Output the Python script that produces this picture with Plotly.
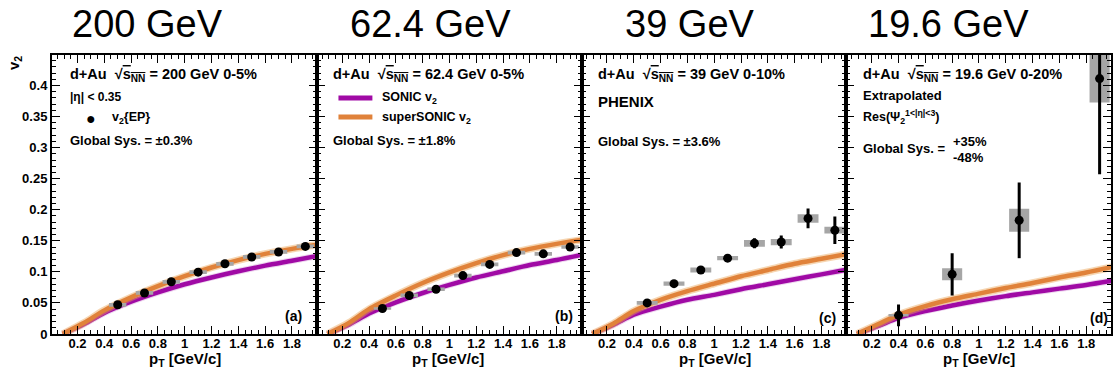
import plotly.graph_objects as go

# ---------------- data ----------------
# hydrodynamic curves (SONIC / superSONIC), sampled in pT
PT_CURVE = [0.09, 0.25, 0.4, 0.6, 0.8, 1.0, 1.2, 1.4, 1.6, 1.8, 2.0]

SONIC_200 = [0.0, 0.016, 0.034, 0.052, 0.067, 0.080, 0.091, 0.101, 0.110, 0.118, 0.126]
SUPER_200 = [0.0, 0.018, 0.038, 0.059, 0.077, 0.093, 0.107, 0.119, 0.129, 0.137, 0.144]
SONIC_624 = [0.0, 0.015, 0.033, 0.051, 0.066, 0.079, 0.091, 0.101, 0.111, 0.119, 0.128]
SUPER_624 = [0.0, 0.018, 0.040, 0.062, 0.082, 0.099, 0.114, 0.127, 0.137, 0.145, 0.152]
SONIC_39 = [0.0, 0.015, 0.031, 0.044, 0.055, 0.063, 0.072, 0.080, 0.088, 0.096, 0.104]
SUPER_39 = [0.0, 0.017, 0.037, 0.055, 0.069, 0.081, 0.093, 0.103, 0.113, 0.121, 0.129]
SONIC_196 = [0.0, 0.013, 0.026, 0.037, 0.046, 0.054, 0.061, 0.067, 0.073, 0.079, 0.086]
SUPER_196 = [0.0, 0.016, 0.031, 0.045, 0.056, 0.065, 0.074, 0.082, 0.091, 0.099, 0.108]

# PHENIX v2{EP} measurements
PT_DATA = [0.5, 0.7, 0.9, 1.1, 1.3, 1.5, 1.7, 1.9]

V2_200 = [0.047, 0.066, 0.084, 0.0995, 0.113, 0.124, 0.132, 0.141]
STAT_200 = [0.001, 0.001, 0.001, 0.001, 0.0015, 0.0015, 0.002, 0.002]
SYS_200 = [0.003, 0.003, 0.003, 0.003, 0.003, 0.003, 0.003, 0.003]

V2_624 = [0.041, 0.062, 0.072, 0.094, 0.112, 0.131, 0.129, 0.140]
STAT_624 = [0.002, 0.002, 0.002, 0.003, 0.003, 0.004, 0.004, 0.005]
SYS_624 = [0.002, 0.003, 0.003, 0.003, 0.003, 0.003, 0.003, 0.003]

V2_39 = [0.050, 0.081, 0.103, 0.122, 0.146, 0.148, 0.186, 0.167]
STAT_39 = [0.002, 0.003, 0.003, 0.004, 0.008, 0.0105, 0.016, 0.022]
SYS_39 = [0.003, 0.0035, 0.004, 0.0035, 0.0054, 0.005, 0.0068, 0.0054]

PT_196 = [0.4, 0.8, 1.3, 1.9]
V2_196 = [0.030, 0.096, 0.183, 0.411]
STAT_196 = [0.0175, 0.034, 0.061, 0.154]
SYS_196 = [0.002, 0.0097, 0.0185, 0.0385]

BOX_HALF_WIDTH = [0.065, 0.065, 0.078, 0.075]

PANELS = [
    dict(title="200 GeV", sonic=SONIC_200, sup=SUPER_200, pt=PT_DATA, v2=V2_200, stat=STAT_200, sys=SYS_200, tag="(a)"),
    dict(title="62.4 GeV", sonic=SONIC_624, sup=SUPER_624, pt=PT_DATA, v2=V2_624, stat=STAT_624, sys=SYS_624, tag="(b)"),
    dict(title="39 GeV", sonic=SONIC_39, sup=SUPER_39, pt=PT_DATA, v2=V2_39, stat=STAT_39, sys=SYS_39, tag="(c)"),
    dict(title="19.6 GeV", sonic=SONIC_196, sup=SUPER_196, pt=PT_196, v2=V2_196, stat=STAT_196, sys=SYS_196, tag="(d)"),
]

# ---------------- style ----------------
W, H = 1113, 372
ML, MR, MT, MB = 52, 0, 55, 38
PURPLE = "#a00aa5"
PURPLE_BAND = "rgba(175,60,180,0.22)"
ORANGE = "#e0823a"
ORANGE_BAND = "rgba(235,165,85,0.45)"
GREY = "#a6a6a6"
FONT = "Liberation Sans"

X_RANGE = [0.01, 1.985]
Y_RANGE = [0, 0.449]


def px(xpix):
    return (xpix - ML) / (W - ML - MR)


def py(ypix):
    return (H - MB - ypix) / (H - MT - MB)


fig = go.Figure()

n = len(PANELS)
for i, p in enumerate(PANELS):
    xa = "x" if i == 0 else f"x{i + 1}"
    ya = "y" if i == 0 else f"y{i + 1}"

    # theory curves: soft band underneath a solid core line
    for vals, core, band, bw in ((p["sonic"], PURPLE, PURPLE_BAND, 6.5), (p["sup"], ORANGE, ORANGE_BAND, 7.5)):
        fig.add_trace(go.Scatter(x=PT_CURVE, y=vals, mode="lines", xaxis=xa, yaxis=ya,
                                 line=dict(color=band, width=bw, shape="spline", smoothing=0.8),
                                 hoverinfo="skip", showlegend=False))
        fig.add_trace(go.Scatter(x=PT_CURVE, y=vals, mode="lines", xaxis=xa, yaxis=ya,
                                 line=dict(color=core, width=4.5, shape="spline", smoothing=0.8),
                                 showlegend=False))

    # systematic uncertainty boxes
    hw = BOX_HALF_WIDTH[i]
    bx, by = [], []
    for x, v, s in zip(p["pt"], p["v2"], p["sys"]):
        bx += [x - hw, x + hw, x + hw, x - hw, x - hw, None]
        by += [v - s, v - s, v + s, v + s, v - s, None]
    fig.add_trace(go.Scatter(x=bx, y=by, mode="lines", fill="toself", fillcolor=GREY,
                             line=dict(width=0, color=GREY), xaxis=xa, yaxis=ya,
                             hoverinfo="skip", showlegend=False))

    # data points with statistical errors
    fig.add_trace(go.Scatter(x=p["pt"], y=p["v2"], mode="markers", xaxis=xa, yaxis=ya,
                             marker=dict(color="black", size=9),
                             error_y=dict(type="data", array=p["stat"], color="black", thickness=3, width=0),
                             showlegend=False))

axis_common = dict(
    ticks="inside", mirror="allticks", showline=True, linewidth=2, linecolor="black",
    tickcolor="black", tickwidth=1.3, ticklen=8, showgrid=False, zeroline=False,
    tickfont=dict(family=FONT, size=13, color="black", weight="bold"),
)

layout = dict(width=W, height=H, margin=dict(l=ML, r=MR, t=MT, b=MB),
              plot_bgcolor="white", paper_bgcolor="white", showlegend=False)
for i in range(n):
    sx = "" if i == 0 else str(i + 1)
    layout[f"xaxis{sx}"] = dict(axis_common, domain=[i / n, (i + 1) / n], range=X_RANGE,
                                anchor=f"y{sx}", tick0=0, dtick=0.2, ticklabelstandoff=-4,
                                minor=dict(ticks="inside", tick0=0, dtick=0.05, ticklen=4,
                                           tickcolor="black", tickwidth=1.1))
    layout[f"yaxis{sx}"] = dict(axis_common, domain=[0, 1], range=Y_RANGE,
                                anchor=f"x{sx}", tick0=0, dtick=0.05,
                                showticklabels=(i == 0),
                                minor=dict(ticks="inside", tick0=0, dtick=0.01, ticklen=4,
                                           tickcolor="black", tickwidth=1.1))
fig.update_layout(**layout)

ann = []


def text(x, y, s, size=13.5, anchor="left", bold=True, **kw):
    ann.append(dict(x=px(x), y=py(y), xref="paper", yref="paper", text=(f"<b>{s}</b>" if bold else s),
                    showarrow=False, xanchor=anchor, yanchor="middle",
                    font=dict(family=FONT, size=size, color="black"), **kw))


# energy headings above panels
for xc, p in zip([148, 431, 691, 950], PANELS):
    text(xc, 24, p["title"], size=38, anchor="center", bold=False)

# axis titles
text(14, 63, "v<sub>2</sub>", size=15, anchor="center", textangle=-90)
for xc in [185, 449, 716, 981]:
    text(xc, 359, "p<sub>T</sub> [GeV/c]", size=15, anchor="center")

SQRT = "√<span style='text-decoration:overline'>s<sub>NN</sub></span>"
text(68, 75, f"d+Au  {SQRT} = 200 GeV 0-5%", size=14.5)
text(68, 97, "|η| &lt; 0.35", size=12)
text(91, 118, "●", size=16, anchor="center")
text(110, 118, "v<sub>2</sub>{EP}", size=12.5)
text(68, 140, "Global Sys. = ±0.3%", size=13)

text(332, 75, f"d+Au  {SQRT} = 62.4 GeV 0-5%", size=14.5)
text(381, 98, "SONIC v<sub>2</sub>", size=12.5)
text(381, 118, "superSONIC v<sub>2</sub>", size=12.5)
text(332, 140, "Global Sys. = ±1.8%", size=13)

text(597, 75, f"d+Au  {SQRT} = 39 GeV 0-10%", size=14.5)
text(597, 101, "PHENIX", size=15)
text(597, 141, "Global Sys. = ±3.6%", size=13)

text(863, 75, f"d+Au  {SQRT} = 19.6 GeV 0-20%", size=14.5)
text(863, 95, "Extrapolated", size=13)
text(863, 117, "Res(Ψ<sub>2</sub><sup>1&lt;|η|&lt;3</sup>)", size=12.5)
text(863, 148, "Global Sys. =", size=13)
text(953, 141, "+35%", size=13)
text(953, 157, "-48%", size=13)

for xr, yc, p in zip([304, 576, 839, 1112], [316, 316, 318, 318], PANELS):
    text(xr, yc, p["tag"], size=14, anchor="right")

fig.update_layout(annotations=ann)

# legend line samples for the two hydro curves
for yy, col in ((98, PURPLE), (117, ORANGE)):
    fig.add_shape(type="line", xref="paper", yref="paper", x0=px(339), x1=px(373), y0=py(yy), y1=py(yy),
                  line=dict(color=col, width=5))

fig.write_html("out.html")
